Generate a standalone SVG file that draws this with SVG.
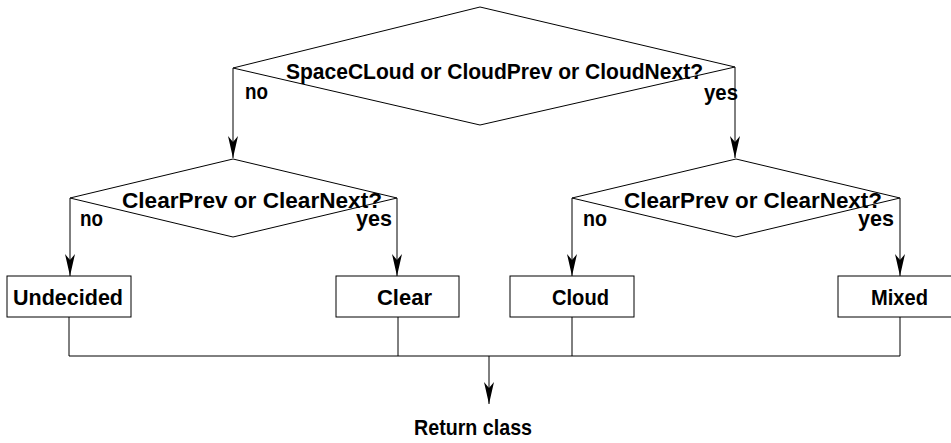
<svg xmlns="http://www.w3.org/2000/svg" width="951" height="443" viewBox="0 0 951 443">
<style>
.s{fill:#fff;stroke:#000;stroke-width:1}
.c{fill:none;stroke:#000;stroke-width:1}
text{font-family:"Liberation Sans",Arial,sans-serif;font-weight:bold;font-size:22px;fill:#000}
</style>
<defs>
<marker id="ah" markerUnits="userSpaceOnUse" markerWidth="24" markerHeight="12" viewBox="-22 -6 24 12" refX="0" refY="0" orient="auto">
<path d="M0,0 L-22,-5 L-16,0 L-22,5 Z" fill="#000"/>
</marker>
</defs>
<rect width="951" height="443" fill="#fff"/>
<g id="connectors">
<path class="c" d="M233,68 V158" marker-end="url(#ah)"/>
<path class="c" d="M735,67 V158" marker-end="url(#ah)"/>
<path class="c" d="M70,198 V276" marker-end="url(#ah)"/>
<path class="c" d="M397,198 V276" marker-end="url(#ah)"/>
<path class="c" d="M572,198 V276" marker-end="url(#ah)"/>
<path class="c" d="M900,198 V276" marker-end="url(#ah)"/>
<path class="c" d="M69,317 V356 M398,317 V356 M572,317 V356 M900,317 V356 M69,356 H900"/>
<path class="c" d="M489,356 V404" marker-end="url(#ah)"/>
</g>
<g id="d1">
<polygon class="s" points="480,7 735,67 480,125 233,68"/>
<text x="286" y="79" font-size="24.5" textLength="417" lengthAdjust="spacingAndGlyphs">SpaceCLoud or CloudPrev or CloudNext?</text>
<text x="245" y="99" textLength="23" lengthAdjust="spacingAndGlyphs">no</text>
<text x="704" y="100" textLength="34" lengthAdjust="spacingAndGlyphs">yes</text>
</g>
<g id="d2">
<polygon class="s" points="233,159 397,198 233,237 70,198"/>
<text x="122" y="208" font-size="22.5" textLength="260" lengthAdjust="spacingAndGlyphs">ClearPrev or ClearNext?</text>
<text x="80" y="226" textLength="23" lengthAdjust="spacingAndGlyphs">no</text>
<text x="356" y="226" textLength="36" lengthAdjust="spacingAndGlyphs">yes</text>
</g>
<g id="d3">
<polygon class="s" points="736,159 900,198 736,237 572,198"/>
<text x="624" y="208" font-size="22.5" textLength="258" lengthAdjust="spacingAndGlyphs">ClearPrev or ClearNext?</text>
<text x="583" y="226" textLength="24" lengthAdjust="spacingAndGlyphs">no</text>
<text x="858" y="226" textLength="36" lengthAdjust="spacingAndGlyphs">yes</text>
</g>
<g id="undecided">
<rect class="s" x="7" y="276" width="124" height="41"/>
<text x="13" y="305" textLength="110" lengthAdjust="spacingAndGlyphs">Undecided</text>
</g>
<g id="clear">
<rect class="s" x="336" y="276" width="123" height="41"/>
<text x="377" y="305" textLength="55" lengthAdjust="spacingAndGlyphs">Clear</text>
</g>
<g id="cloud">
<rect class="s" x="510" y="276" width="124" height="41"/>
<text x="552" y="305" textLength="57" lengthAdjust="spacingAndGlyphs">Cloud</text>
</g>
<g id="mixed">
<rect class="s" x="838" y="276" width="124" height="41"/>
<text x="871" y="305" textLength="57" lengthAdjust="spacingAndGlyphs">Mixed</text>
</g>
<g id="ret">
<text x="414" y="435" textLength="118" lengthAdjust="spacingAndGlyphs">Return class</text>
</g>
</svg>
